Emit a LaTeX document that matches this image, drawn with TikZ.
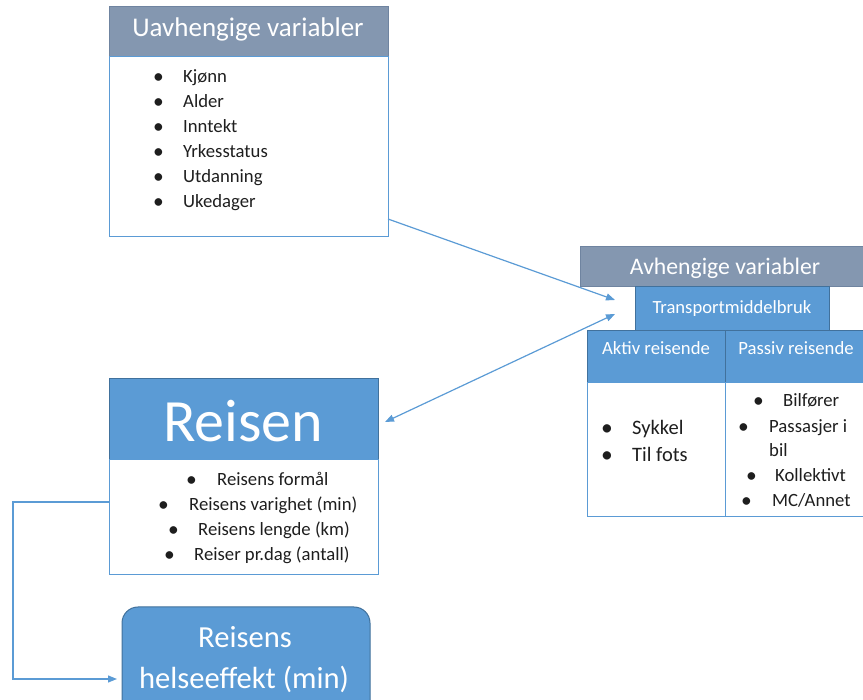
\documentclass[tikz,border=0pt]{standalone}
\usepackage{fontspec}
\setmainfont{Carlito}
\usetikzlibrary{arrows.meta}
\definecolor{hdr}{HTML}{8497B0}
\definecolor{hdrd}{HTML}{6F84A0}
\definecolor{blu}{HTML}{5B9BD5}
\definecolor{blud}{HTML}{41719C}
\definecolor{txt}{HTML}{1E1E1E}
\newcommand{\bl}{\raisebox{-0.5pt}{\scalebox{1.15}{\textbullet}}}
\begin{document}
\begin{tikzpicture}[x=1pt,y=-1pt,
  frame/.style={draw=blu,line width=1pt,inner sep=0pt,outer sep=0pt,anchor=north west},
  grayhead/.style={frame,fill=hdr,draw=hdrd},
  bluehead/.style={frame,fill=blu,draw=blud},
  whitetxt/.style={text=white,inner sep=0pt,anchor=base},
  item/.style={text=txt,inner sep=0pt,anchor=base west,font=\fontsize{18.7}{20}\selectfont},
  conn/.style={draw=blu,line width=1.2pt},
  tipa/.tip={Triangle[length=9pt,width=7pt]}]
\path[use as bounding box] (0,0) rectangle (863,700);

% Uavhengige variabler
\node[grayhead,minimum width=279pt,minimum height=50pt] (uhead) at (109,7) {};
\node[frame,minimum width=279pt,minimum height=180pt] (ubody) at (109,57) {};
\node[whitetxt,font=\fontsize{27}{30}\selectfont] (utitle) at (248,37) {Uavhengige variabler};
\foreach \t/\yy [count=\i] in {Kjønn/83,Alder/108,Inntekt/133,Yrkesstatus/158,Utdanning/183,Ukedager/208}
  \node[item] (u\i) at (153,\yy) {\makebox[30pt][l]{\bl}\t};

% Avhengige variabler
\node[grayhead,minimum width=300pt,minimum height=40pt] (ahead) at (580,247) {};
\node[whitetxt,font=\fontsize{23.7}{26}\selectfont] (atitle) at (725,275) {Avhengige variabler};
\node[bluehead,minimum width=194pt,minimum height=44pt] (tmb) at (635,287) {};
\node[whitetxt,font=\fontsize{18.6}{20}\selectfont] (tmbt) at (732,314) {Transportmiddelbruk};
\node[bluehead,minimum width=138pt,minimum height=52pt] (akh) at (587,331) {};
\node[bluehead,minimum width=150pt,minimum height=52pt] (pah) at (725,331) {};
\node[whitetxt,font=\fontsize{18.7}{20}\selectfont] (akt) at (656,355) {Aktiv reisende};
\node[whitetxt,font=\fontsize{18.7}{20}\selectfont] (pat) at (796,355) {Passiv reisende};
\node[frame,minimum width=138pt,minimum height=134pt] (akb) at (587,383) {};
\node[frame,minimum width=150pt,minimum height=134pt] (pab) at (725,383) {};
\node[item,font=\fontsize{20.5}{22}\selectfont] (ak1) at (601,435) {\makebox[31pt][l]{\bl}Sykkel};
\node[item,font=\fontsize{20.5}{22}\selectfont] (ak2) at (601,462) {\makebox[31pt][l]{\bl}Til fots};
\node[item] (pa1) at (753,407) {\makebox[30pt][l]{\bl}Bilfører};
\node[item] (pa2) at (738,433) {\makebox[31pt][l]{\bl}Passasjer i};
\node[item] (pa3) at (769,457) {bil};
\node[item] (pa4) at (746,482) {\makebox[29pt][l]{\bl}Kollektivt};
\node[item] (pa5) at (741,507) {\makebox[31pt][l]{\bl}MC/Annet};

% Reisen
\node[bluehead,minimum width=269pt,minimum height=81pt] (rhead) at (109,379) {};
\node[frame,minimum width=269pt,minimum height=115pt] (rbody) at (109,460) {};
\node[whitetxt,font=\fontsize{60}{64}\selectfont] (rtitle) at (243,442) {Reisen};
\node[item] (r1) at (186,486) {\makebox[31pt][l]{\bl}Reisens formål};
\node[item] (r2) at (158,511) {\makebox[31pt][l]{\bl}Reisens varighet (min)};
\node[item] (r3) at (168,536) {\makebox[30pt][l]{\bl}Reisens lengde (km)};
\node[item] (r4) at (164,561) {\makebox[30pt][l]{\bl}Reiser pr.dag (antall)};

% Reisens helseeffekt
\node[frame,fill=blu,draw=blud,rounded corners=16pt,minimum width=248pt,minimum height=115pt] (heff) at (122,607) {};
\node[whitetxt,font=\fontsize{30.6}{34}\selectfont] (h1) at (245,648) {Reisens};
\node[whitetxt,font=\fontsize{30.6}{34}\selectfont] (h2) at (244,688) {helseeffekt (min)};

% connectors
\coordinate (a1s) at (388,219);
\coordinate (a1e) at (615,300);
\draw[conn,-tipa] (a1s) -- (a1e);
\coordinate (a2s) at (615,314);
\coordinate (a2e) at (385,422);
\draw[conn,tipa-tipa] (a2s) -- (a2e);
\coordinate (e1) at (109,502);
\coordinate (e2) at (117,679);
\draw[conn,-tipa] (e1) -- ++(-96,0) |- (e2);
\end{tikzpicture}
\end{document}
